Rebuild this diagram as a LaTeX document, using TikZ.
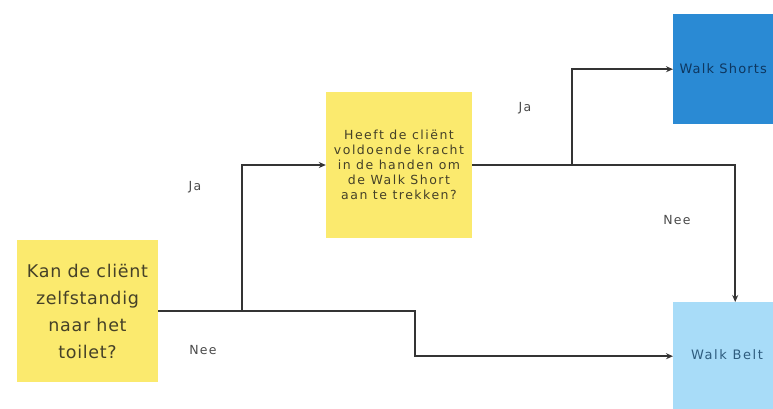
\documentclass[tikz,border=0pt]{standalone}
\usepackage{fontspec}
\setmainfont{DejaVu Sans}
\usetikzlibrary{arrows.meta}
\definecolor{stickyY}{HTML}{FBEA6E}
\definecolor{stickyT}{HTML}{454128}
\definecolor{shortB}{HTML}{2A8AD4}
\definecolor{shortT}{HTML}{0E3760}
\definecolor{beltB}{HTML}{A8DCF8}
\definecolor{beltT}{HTML}{2E5C7E}
\definecolor{lineC}{HTML}{343434}
\definecolor{lblC}{HTML}{4A4A4A}
\begin{document}
\begin{tikzpicture}[x=1pt,y=-1pt,
  sticky/.style={fill=stickyY, draw=none, inner sep=0pt, align=center, text=stickyT},
  conn/.style={draw=lineC, line width=1.8pt, -{Stealth[length=7pt,width=6pt]}},
  lbl/.style={text=lblC, font=\fontsize{12.5}{14}\selectfont\addfontfeature{LetterSpace=10}}]
\useasboundingbox (0,0) rectangle (773,408);
\clip (0,0) rectangle (773,408);
\node[sticky, minimum width=141pt, minimum height=142pt,
  font=\fontsize{17.5}{27}\selectfont\addfontfeature{LetterSpace=4}] (q1) at (87.5,311)
  {Kan de cliënt\\zelfstandig\\naar het\\toilet?};
\node[sticky, minimum width=146pt, minimum height=146pt,
  font=\fontsize{12.5}{15}\selectfont\addfontfeature{LetterSpace=12}] (q2) at (399,165)
  {Heeft de cliënt\\voldoende kracht\\in de handen om\\de Walk Short\\aan te trekken?};
\node[fill=shortB, inner sep=0pt, minimum width=140pt, minimum height=110pt, anchor=north west] (ws) at (673,14) {};
\node[anchor=west, text=shortT, font=\fontsize{13}{14}\selectfont\addfontfeature{LetterSpace=9}] (wst) at (676,69) {Walk Shorts};
\node[fill=beltB, inner sep=0pt, minimum width=124pt, minimum height=108pt, anchor=north west] (wb) at (673,302) {};
\node[text=beltT, font=\fontsize{13}{14}\selectfont\addfontfeature{LetterSpace=12}] (wbt) at (727,355) {Walk Belt};
\draw[conn] (q1.east) -- ++(84,0) |- (q2.west);
\draw[conn] (q1.east) -- ++(257,0) |- (wb.west);
\draw[conn] (q2.east) -- ++(100,0) |- (ws.west);
\draw[conn] (q2.east) -| (wb.north);
\node[lbl] (l1) at (195,187) {Ja};
\node[lbl] (l2) at (203,350) {Nee};
\node[lbl] (l3) at (525,108) {Ja};
\node[lbl] (l4) at (677,220) {Nee};
\end{tikzpicture}
\end{document}
